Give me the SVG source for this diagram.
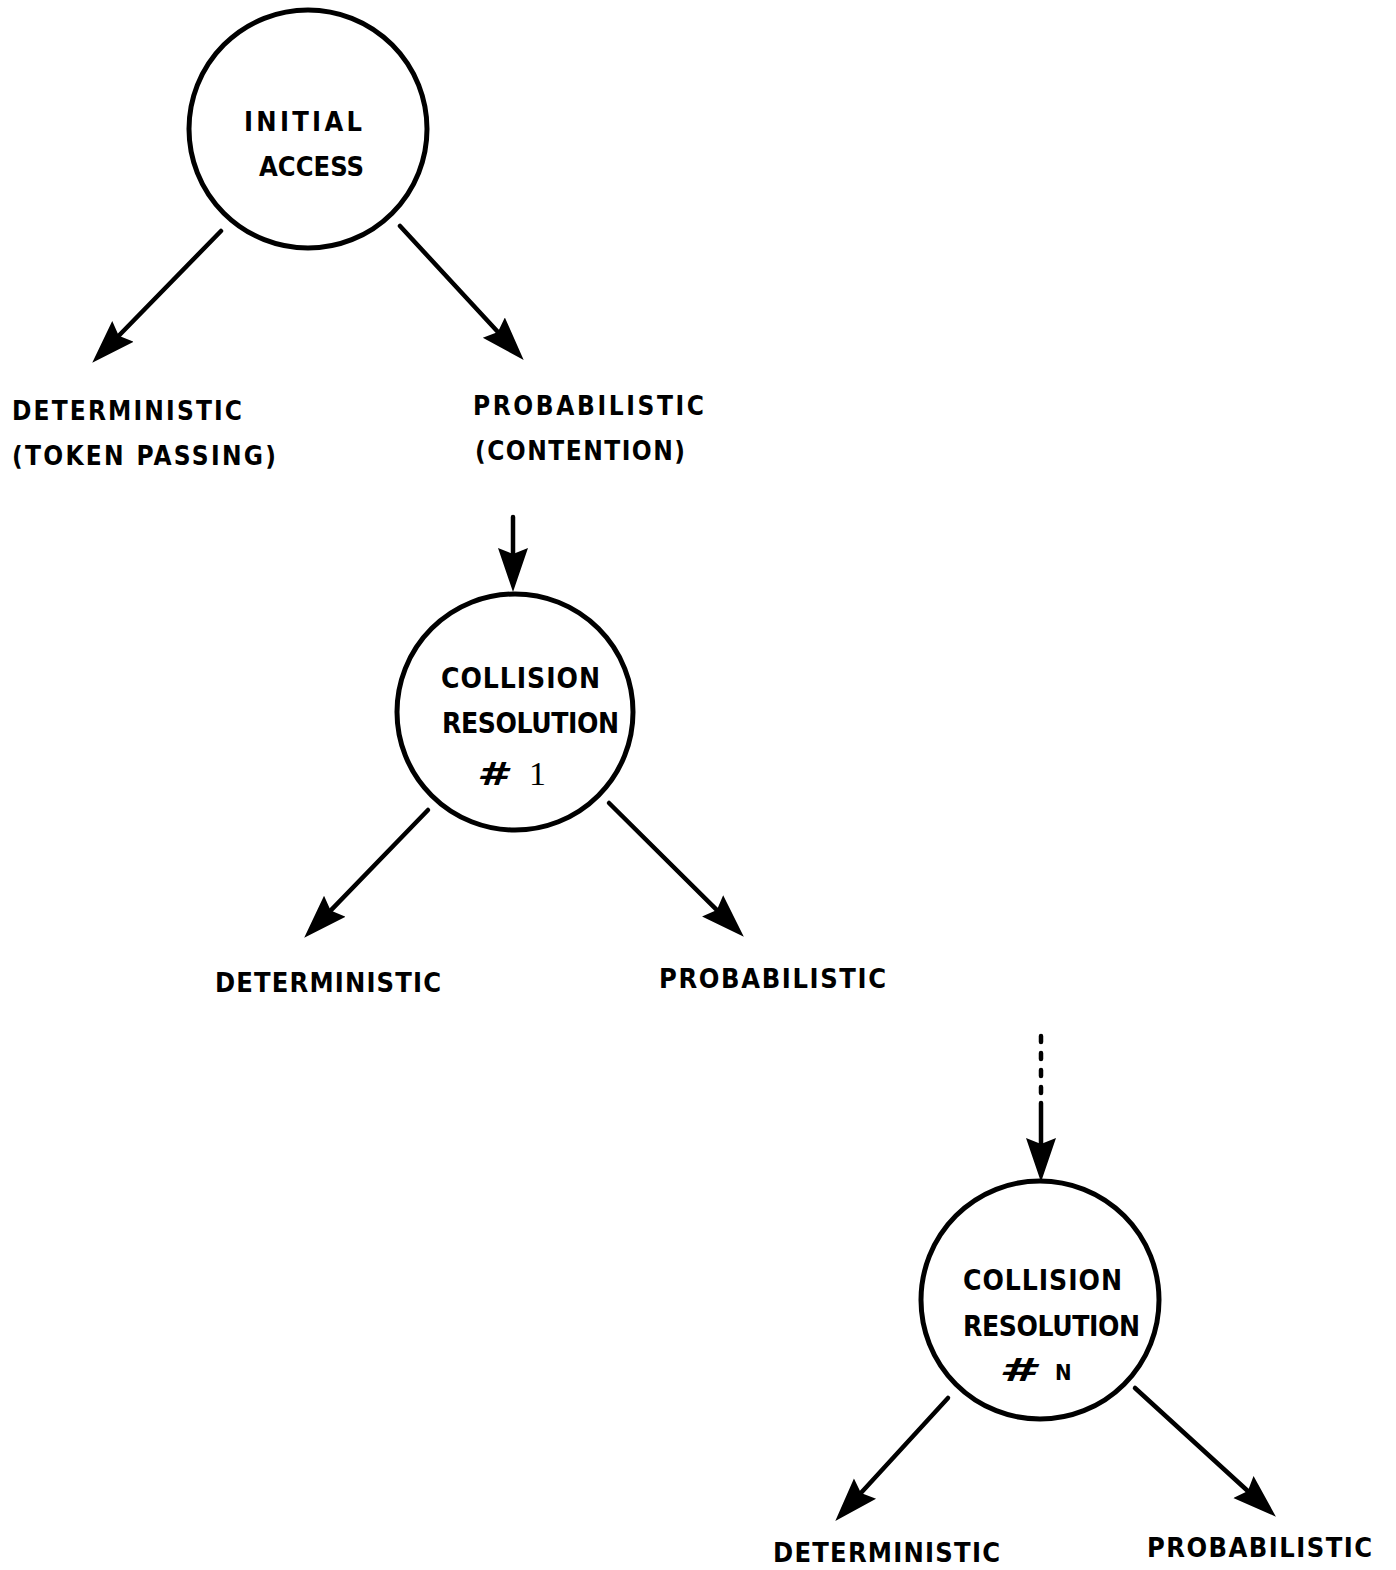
<svg xmlns="http://www.w3.org/2000/svg" width="1396" height="1570" viewBox="0 0 1396 1570">
  <style>
    .node { fill: #fff; stroke: #000; stroke-width: 5; }
    .lbl { font-family: "DejaVu Sans Condensed", "DejaVu Sans", "Liberation Sans", sans-serif; font-stretch: condensed; font-weight: bold; fill: #000; }
    .edge { stroke: #000; stroke-width: 4.5; fill: none; stroke-linecap: round; }
  </style>
  <defs>
    <marker id="head" markerUnits="userSpaceOnUse" markerWidth="48" markerHeight="36" viewBox="0 -18 48 36" refX="20" refY="0" orient="auto">
      <path d="M0,-15 L44,0 L0,15 L6,0 Z" fill="#000"/>
    </marker>
  </defs>
  <rect width="1396" height="1570" fill="#fff"/>

  <g id="connectors">
    <line class="edge" x1="221" y1="231" x2="109" y2="345.7" marker-end="url(#head)"/>
    <line class="edge" x1="400" y1="226" x2="507.4" y2="342.3" marker-end="url(#head)"/>
    <line class="edge" x1="513" y1="517" x2="513" y2="568" marker-end="url(#head)"/>
    <line class="edge" x1="428" y1="810" x2="320.9" y2="920.6" marker-end="url(#head)"/>
    <line class="edge" x1="609" y1="803" x2="726.8" y2="919.9" marker-end="url(#head)"/>
    <line class="edge" x1="1041" y1="1036" x2="1041" y2="1094" stroke-dasharray="6 11"/>
    <line class="edge" x1="1041" y1="1103" x2="1041" y2="1158" marker-end="url(#head)"/>
    <line class="edge" x1="948" y1="1398" x2="851.5" y2="1503.3" marker-end="url(#head)"/>
    <line class="edge" x1="1135" y1="1388" x2="1258.2" y2="1500.5" marker-end="url(#head)"/>
  </g>

  <g id="initial-access">
    <circle class="node" cx="308" cy="129" r="119"/>
    <text class="lbl" x="244" y="131" font-size="27" textLength="118" lengthAdjust="spacing">INITIAL</text>
    <text class="lbl" x="259" y="176" font-size="27" textLength="105" lengthAdjust="spacing">ACCESS</text>
  </g>

  <g id="deterministic-token">
    <text class="lbl" x="12" y="420" font-size="26" textLength="230" lengthAdjust="spacing">DETERMINISTIC</text>
    <text class="lbl" x="12" y="465" font-size="26" textLength="264" lengthAdjust="spacing">(TOKEN PASSING)</text>
  </g>

  <g id="probabilistic-contention">
    <text class="lbl" x="473" y="415" font-size="26" textLength="231" lengthAdjust="spacing">PROBABILISTIC</text>
    <text class="lbl" x="475" y="460" font-size="26" textLength="210" lengthAdjust="spacing">(CONTENTION)</text>
  </g>

  <g id="collision-resolution-1">
    <circle class="node" cx="515" cy="712" r="118"/>
    <text class="lbl" x="441" y="688" font-size="28" textLength="159" lengthAdjust="spacing">COLLISION</text>
    <text class="lbl" x="442" y="733" font-size="28" textLength="177" lengthAdjust="spacing">RESOLUTION</text>
    <text class="lbl" x="477" y="785" font-size="32" textLength="30" lengthAdjust="spacingAndGlyphs" font-style="italic">#</text>
    <text x="529" y="785" font-size="34" font-family="Liberation Serif, serif" fill="#000">1</text>
  </g>

  <g id="deterministic-1">
    <text class="lbl" x="215" y="992" font-size="27" textLength="226" lengthAdjust="spacing">DETERMINISTIC</text>
  </g>
  <g id="probabilistic-1">
    <text class="lbl" x="659" y="988" font-size="27" textLength="227" lengthAdjust="spacing">PROBABILISTIC</text>
  </g>

  <g id="collision-resolution-n">
    <circle class="node" cx="1040" cy="1300" r="119"/>
    <text class="lbl" x="963" y="1290" font-size="28" textLength="159" lengthAdjust="spacing">COLLISION</text>
    <text class="lbl" x="963" y="1336" font-size="28" textLength="177" lengthAdjust="spacing">RESOLUTION</text>
    <text class="lbl" x="999" y="1381" font-size="32" textLength="36" lengthAdjust="spacingAndGlyphs" font-style="italic">#</text>
    <text class="lbl" x="1055" y="1380" font-size="22">N</text>
  </g>

  <g id="deterministic-n">
    <text class="lbl" x="773" y="1562" font-size="27" textLength="227" lengthAdjust="spacing">DETERMINISTIC</text>
  </g>
  <g id="probabilistic-n">
    <text class="lbl" x="1147" y="1557" font-size="27" textLength="225" lengthAdjust="spacing">PROBABILISTIC</text>
  </g>
</svg>
